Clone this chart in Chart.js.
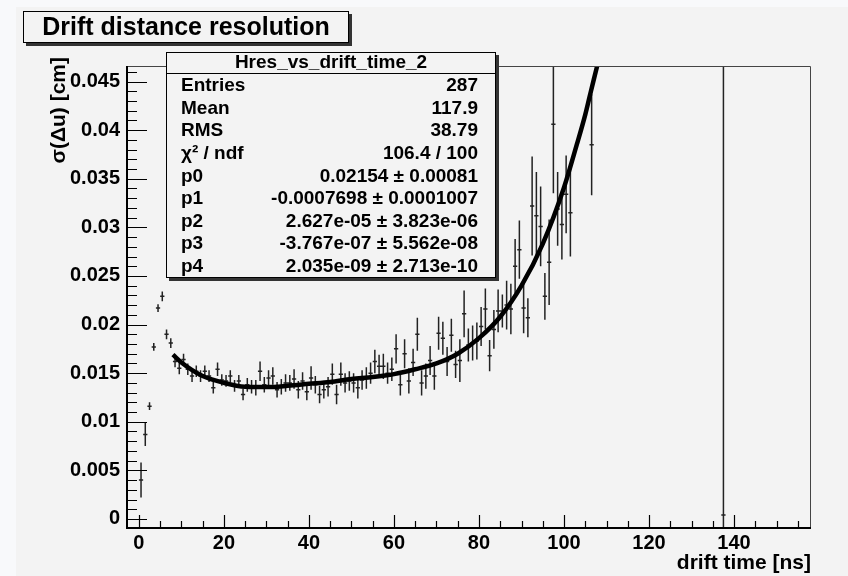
<!DOCTYPE html>
<html>
<head>
<meta charset="utf-8">
<script src="https://cdn.jsdelivr.net/npm/chart.js@4.4.1/dist/chart.umd.min.js"></script>
<style>
    html, body { margin: 0; padding: 0; background: #f3f3f3; }
    #wrap { width: 848px; height: 576px; position: relative; }
</style>
</head>
<body>
<div id="wrap"><canvas id="resChart"></canvas></div>
<script>
// bin centres [ns] of the filled bins
const binX = [
    0.5, 1.5, 2.5, 3.5, 4.5, 5.5, 6.5, 7.5, 8.5, 9.5,
    10.5, 11.5, 12.5, 13.5, 14.5, 15.5, 16.5, 17.5, 18.5, 19.5,
    20.5, 21.5, 22.5, 23.5, 24.5, 25.5, 26.5, 27.5, 28.5, 29.5,
    30.5, 31.5, 32.5, 33.5, 34.5, 35.5, 36.5, 37.5, 38.5, 39.5,
    40.5, 41.5, 42.5, 43.5, 44.5, 45.5, 46.5, 47.5, 48.5, 49.5,
    50.5, 51.5, 52.5, 53.5, 54.5, 55.5, 56.5, 57.5, 58.5, 59.5,
    60.5, 61.5, 62.5, 63.5, 64.5, 65.5, 66.5, 67.5, 68.5, 69.5,
    70.5, 71.5, 72.5, 73.5, 74.5, 75.5, 76.5, 77.5, 78.5, 79.5,
    80.5, 81.5, 82.5, 83.5, 84.5, 85.5, 86.5, 87.5, 88.5, 89.5,
    90.5, 91.5, 92.5, 93.5, 94.5, 95.5, 96.5, 97.5, 98.5, 99.5,
    100.5, 101.5, 106.5, 137.5
];
// sigma(delta u) [cm]
const sigma = [
    0.0040, 0.0087, 0.0116, 0.0177, 0.0217, 0.0229, 0.0190, 0.0181, 0.0162, 0.0155,
    0.0164, 0.0154, 0.0147, 0.0152, 0.0147, 0.0152, 0.0147, 0.0135, 0.0154, 0.0143,
    0.0142, 0.0147, 0.0137, 0.0142, 0.0128, 0.0138, 0.0136, 0.0135, 0.0152, 0.0138,
    0.0145, 0.0147, 0.0133, 0.0136, 0.0140, 0.0140, 0.0144, 0.0133, 0.0142, 0.0131,
    0.0145, 0.0138, 0.0128, 0.0133, 0.0136, 0.0149, 0.0128, 0.0149, 0.0140, 0.0142,
    0.0140, 0.0135, 0.0143, 0.0145, 0.0150, 0.0162, 0.0157, 0.0157, 0.0150, 0.0154,
    0.0175, 0.0138, 0.0170, 0.0142, 0.0161, 0.0190, 0.0140, 0.0147, 0.0163, 0.0147,
    0.0191, 0.0186, 0.0162, 0.0189, 0.0159, 0.0163, 0.0211, 0.0179, 0.0181, 0.0183,
    0.0198, 0.0216, 0.0168, 0.0195, 0.0214, 0.0214, 0.0220, 0.0216, 0.0260, 0.0277,
    0.0217, 0.0207, 0.0322, 0.0312, 0.0301, 0.0229, 0.0264, 0.0406, 0.0319, 0.0303,
    0.0334, 0.0315, 0.0385, 0.0004
];
const sigmaErr = [
    0.0018, 0.0012, 0.0004, 0.0004, 0.0004, 0.0005, 0.0005, 0.0005, 0.0006, 0.0006,
    0.0006, 0.0006, 0.0006, 0.0006, 0.0006, 0.0006, 0.0006, 0.0006, 0.0007, 0.0006,
    0.0006, 0.0006, 0.0006, 0.0006, 0.0006, 0.0007, 0.0007, 0.0008, 0.0010, 0.0008,
    0.0008, 0.0009, 0.0008, 0.0008, 0.0009, 0.0008, 0.0010, 0.0009, 0.0009, 0.0009,
    0.0012, 0.0009, 0.0009, 0.0009, 0.0010, 0.0011, 0.0010, 0.0012, 0.0010, 0.0010,
    0.0010, 0.0011, 0.0010, 0.0011, 0.0011, 0.0012, 0.0012, 0.0013, 0.0011, 0.0012,
    0.0015, 0.0011, 0.0015, 0.0013, 0.0014, 0.0017, 0.0013, 0.0013, 0.0015, 0.0014,
    0.0017, 0.0017, 0.0015, 0.0017, 0.0014, 0.0022, 0.0024, 0.0017, 0.0018, 0.0019,
    0.0020, 0.0021, 0.0016, 0.0020, 0.0022, 0.0017, 0.0025, 0.0026, 0.0028, 0.0030,
    0.0026, 0.0020, 0.0051, 0.0045, 0.0041, 0.0024, 0.0044, 0.0071, 0.0038, 0.0036,
    0.0040, 0.0045, 0.0052, 0.0600
];
const binWidth = 1;

// fitted curve
const fitX = [8, 10, 15, 20, 25, 30, 35, 40, 45, 50, 55, 60, 65, 70, 75, 80, 85, 90, 95, 100, 103, 105, 106, 107, 107.8];
const fitY = [0.0169, 0.0161, 0.0147, 0.0140, 0.0136, 0.01357, 0.0137, 0.0139, 0.0141, 0.0144, 0.0146, 0.0149, 0.0154, 0.0160, 0.0170, 0.0186, 0.0208, 0.0240, 0.0283, 0.0341, 0.0385, 0.0416, 0.0434, 0.0452, 0.0466];

const xTicks = [0, 20, 40, 60, 80, 100, 120, 140];
const yTicks = [0, 0.005, 0.01, 0.015, 0.02, 0.025, 0.03, 0.035, 0.04, 0.045];
const yTickLabels = ['0', '0.005', '0.01', '0.015', '0.02', '0.025', '0.03', '0.035', '0.04', '0.045'];

const statLabels = ['Entries', 'Mean', 'RMS', 'χ² / ndf', 'p0', 'p1', 'p2', 'p3', 'p4'];
const statValues = ['287', '117.9', '38.79', '106.4 / 100', '0.02154 ± 0.00081', '-0.0007698 ± 0.0001007',
    '2.627e-05 ± 3.823e-06', '-3.767e-07 ± 5.562e-08', '2.035e-09 ± 2.713e-10'];

const FONT = "'Liberation Sans', Arial, Helvetica, sans-serif";

// draw the error bar crosses under the fit line
const errorBars = {
    id: 'errorBars',
    beforeDatasetsDraw(chart) {
        const { ctx, chartArea, scales: { x, y } } = chart;
        ctx.save();
        ctx.beginPath();
        ctx.rect(chartArea.left, chartArea.top, chartArea.right - chartArea.left, chartArea.bottom - chartArea.top);
        ctx.clip();
        ctx.strokeStyle = '#222';
        ctx.lineWidth = 1.5;
        ctx.beginPath();
        for (let i = 0; i < binX.length; i++) {
            const px = x.getPixelForValue(binX[i]);
            const py = y.getPixelForValue(sigma[i]);
            ctx.moveTo(x.getPixelForValue(binX[i] - binWidth / 2), py);
            ctx.lineTo(x.getPixelForValue(binX[i] + binWidth / 2), py);
            ctx.moveTo(px, y.getPixelForValue(sigma[i] - sigmaErr[i]));
            ctx.lineTo(px, y.getPixelForValue(sigma[i] + sigmaErr[i]));
        }
        ctx.stroke();
        ctx.restore();
    }
};

function box(ctx, x0, y0, x1, y1) {
    ctx.fillStyle = '#333';
    ctx.fillRect(x0 + 3, y0 + 3, x1 - x0, y1 - y0);
    ctx.fillStyle = '#f3f3f3';
    ctx.fillRect(x0, y0, x1 - x0, y1 - y0);
    ctx.strokeStyle = '#000';
    ctx.lineWidth = 1;
    ctx.strokeRect(x0 + 0.5, y0 + 0.5, x1 - x0 - 1, y1 - y0 - 1);
}

// frame, inward ticks, titles and stats box
const rootDecor = {
    id: 'rootDecor',
    beforeDraw(chart) {
        const ctx = chart.ctx;
        ctx.save();
        ctx.fillStyle = '#f3f3f3';
        ctx.fillRect(0, 0, chart.width, chart.height);
        ctx.fillStyle = '#f8f9fb';
        ctx.fillRect(0, 0, 16, chart.height);
        ctx.fillRect(0, 0, chart.width, 7);
        ctx.restore();
    },
    afterDraw(chart) {
        const { ctx, chartArea: a, scales: { x, y } } = chart;
        ctx.save();

        // frame
        ctx.strokeStyle = '#444';
        ctx.lineWidth = 1;
        ctx.beginPath();
        ctx.moveTo(a.left, a.top + 0.5);
        ctx.lineTo(a.right - 0.5, a.top + 0.5);
        ctx.lineTo(a.right - 0.5, a.bottom);
        ctx.stroke();
        ctx.strokeStyle = '#000';
        ctx.lineWidth = 2;
        ctx.beginPath();
        ctx.moveTo(a.left, a.top);
        ctx.lineTo(a.left, a.bottom);
        ctx.lineTo(a.right, a.bottom);
        ctx.stroke();

        // ticks
        ctx.lineWidth = 1.2;
        ctx.beginPath();
        xTicks.forEach(v => {
            for (let m = 0; m < 4; m++) {
                const val = v + m * 5;
                if (val > x.max) continue;
                const px = Math.round(x.getPixelForValue(val)) + 0.5;
                ctx.moveTo(px, a.bottom);
                ctx.lineTo(px, a.bottom - (m === 0 ? 13 : 7));
            }
        });
        yTicks.forEach(v => {
            for (let m = 0; m < 5; m++) {
                const val = v + m * 0.001;
                if (val > y.max) continue;
                const py = Math.round(y.getPixelForValue(val)) + 0.5;
                ctx.moveTo(a.left, py);
                ctx.lineTo(a.left + (m === 0 ? 20 : 10), py);
            }
        });
        ctx.stroke();

        // axis titles
        ctx.fillStyle = '#000';
        ctx.font = 'bold 21px ' + FONT;
        ctx.textAlign = 'right';
        ctx.textBaseline = 'middle';
        ctx.fillText('drift time [ns]', a.right, 563);
        ctx.save();
        ctx.translate(59, 57);
        ctx.rotate(-Math.PI / 2);
        ctx.fillText('σ(Δu) [cm]', 0, 0);
        ctx.restore();

        // title box
        box(ctx, 23, 11, 349, 43);
        ctx.fillStyle = '#000';
        ctx.font = 'bold 25px ' + FONT;
        ctx.textAlign = 'center';
        ctx.fillText('Drift distance resolution', 186, 28);

        // stats box
        box(ctx, 166, 52, 496, 278);
        ctx.beginPath();
        ctx.moveTo(166, 73.5);
        ctx.lineTo(496, 73.5);
        ctx.stroke();
        ctx.fillStyle = '#000';
        ctx.font = 'bold 19px ' + FONT;
        ctx.textAlign = 'center';
        ctx.fillText('Hres_vs_drift_time_2', 331, 63);
        statLabels.forEach((lab, i) => {
            const ty = 86 + i * 22.6;
            ctx.textAlign = 'left';
            ctx.fillText(lab, 181, ty);
            ctx.textAlign = 'right';
            ctx.fillText(statValues[i], 478, ty);
        });
        ctx.restore();
    }
};

const ctx = document.getElementById('resChart').getContext('2d');
new Chart(ctx, {
    type: 'scatter',
    data: {
        datasets: [{
            label: 'Hres_vs_drift_time_2',
            data: binX.map((v, i) => ({ x: v, y: sigma[i] })),
            pointRadius: 0,
            showLine: false
        }, {
            label: 'fit',
            data: fitX.map((v, i) => ({ x: v, y: fitY[i] })),
            showLine: true,
            borderColor: '#000',
            borderWidth: 4.5,
            pointRadius: 0,
            cubicInterpolationMode: 'monotone',
            fill: false
        }]
    },
    options: {
        responsive: true,
        maintainAspectRatio: false,
        animation: false,
        layout: { padding: { left: 0, right: 37, top: 66, bottom: 0 } },
        plugins: {
            legend: { display: false },
            tooltip: { enabled: false }
        },
        scales: {
            x: {
                type: 'linear',
                min: -2.8,
                max: 158.1,
                grid: { display: false, drawTicks: false },
                border: { display: false },
                afterBuildTicks: s => { s.ticks = xTicks.map(v => ({ value: v })); },
                afterFit: s => { s.height = 48; },
                ticks: {
                    padding: 3,
                    color: '#000',
                    font: { family: FONT, size: 20, weight: 'bold' },
                    callback: v => String(v)
                }
            },
            y: {
                type: 'linear',
                min: -0.00093,
                max: 0.0466,
                grid: { display: false, drawTicks: false },
                border: { display: false },
                afterBuildTicks: s => { s.ticks = yTicks.map(v => ({ value: v })); },
                afterFit: s => { s.width = 127; },
                ticks: {
                    padding: 7,
                    color: '#000',
                    font: { family: FONT, size: 20, weight: 'bold' },
                    callback: v => {
                        const i = yTicks.indexOf(v);
                        return i >= 0 ? yTickLabels[i] : '';
                    }
                }
            }
        }
    },
    plugins: [errorBars, rootDecor]
});
</script>
</body>
</html>
